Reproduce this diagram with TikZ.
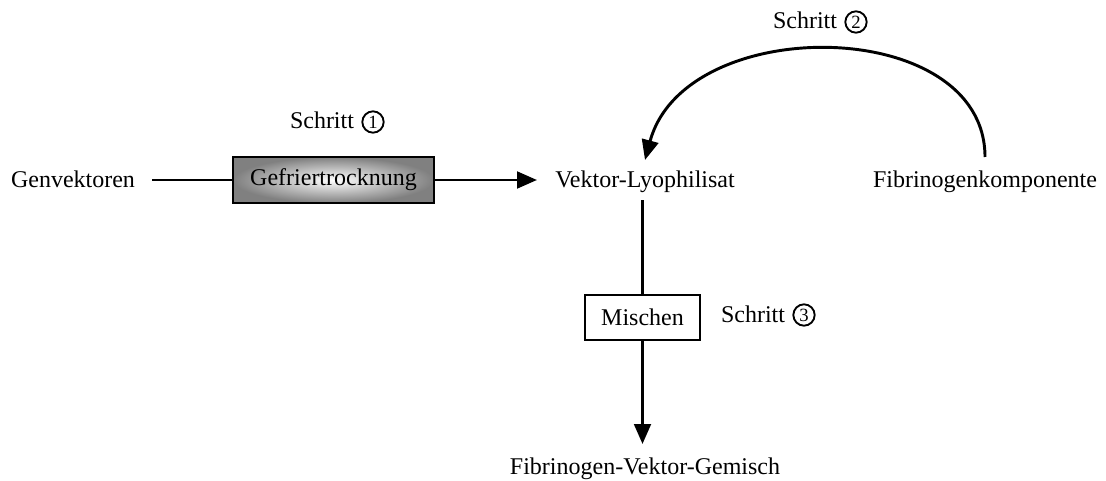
\documentclass[tikz,border=0pt]{standalone}
\usepackage{fontspec}
\setmainfont{Liberation Serif}
\usetikzlibrary{arrows.meta}
\begin{document}
\begin{tikzpicture}[x=0.75pt,y=-0.75pt,
  every node/.style={font=\fontsize{18}{21}\selectfont},
  lbl/.style={inner sep=0pt, anchor=base},
  conn/.style={line width=2.2pt},
  tip/.style={-{Triangle[length=15pt,width=12.5pt]}},
  freeze/.style={draw, line width=1.1pt, minimum width=150.75pt, minimum height=34.5pt,
    inner sep=0pt, outer color=black!50, inner color=white},
  mixbox/.style={draw, line width=1.1pt, fill=white, minimum width=86.25pt, minimum height=33.75pt, inner sep=0pt},
  numcirc/.style={draw, circle, line width=1.4pt, minimum size=16pt, inner sep=0pt,
    font=\fontsize{14}{14}\selectfont}
]
\useasboundingbox (0,0) rectangle (1106,481);

% substances
\node[lbl] (gv) at (73,188) {Genvektoren};
\node[lbl] (vl) at (645,188) {Vektor-Lyophilisat};
\node[lbl] (fk) at (985,188) {Fibrinogenkomponente};
\node[lbl] (fvg) at (645,474) {Fibrinogen-Vektor-Gemisch};

% process boxes
\node[freeze] (gt) at (333.5,180) {Gefriertrocknung};
\node[mixbox] (mi) at (642.5,317.5) {Mischen};

% step labels
\node[lbl] (s1) at (322,129) {Schritt};
\node[numcirc] (c1) at (373,122) {1};
\node[lbl] (s2) at (805,29) {Schritt};
\node[numcirc] (c2) at (856,22) {2};
\node[lbl] (s3) at (753,322) {Schritt};
\node[numcirc] (c3) at (804,315) {3};

% anchor points of connectors
\coordinate (gvE) at (152,180);
\coordinate (vlW) at (537,180);
\coordinate (vlN) at (645,160);
\coordinate (vlS) at (642.5,200);
\coordinate (fkN) at (985,157);
\coordinate (fvgN) at (642.5,444);

% connectors
\draw[conn] (gvE) -- (gt.west);
\draw[conn,tip] (gt.east) -- (vlW);
\draw[conn,tip] (fkN) .. controls (985,15) and (685,12) .. (vlN);
\draw[conn] (vlS) -- (mi.north);
\draw[conn,tip] (mi.south) -- (fvgN);
\end{tikzpicture}
\end{document}
